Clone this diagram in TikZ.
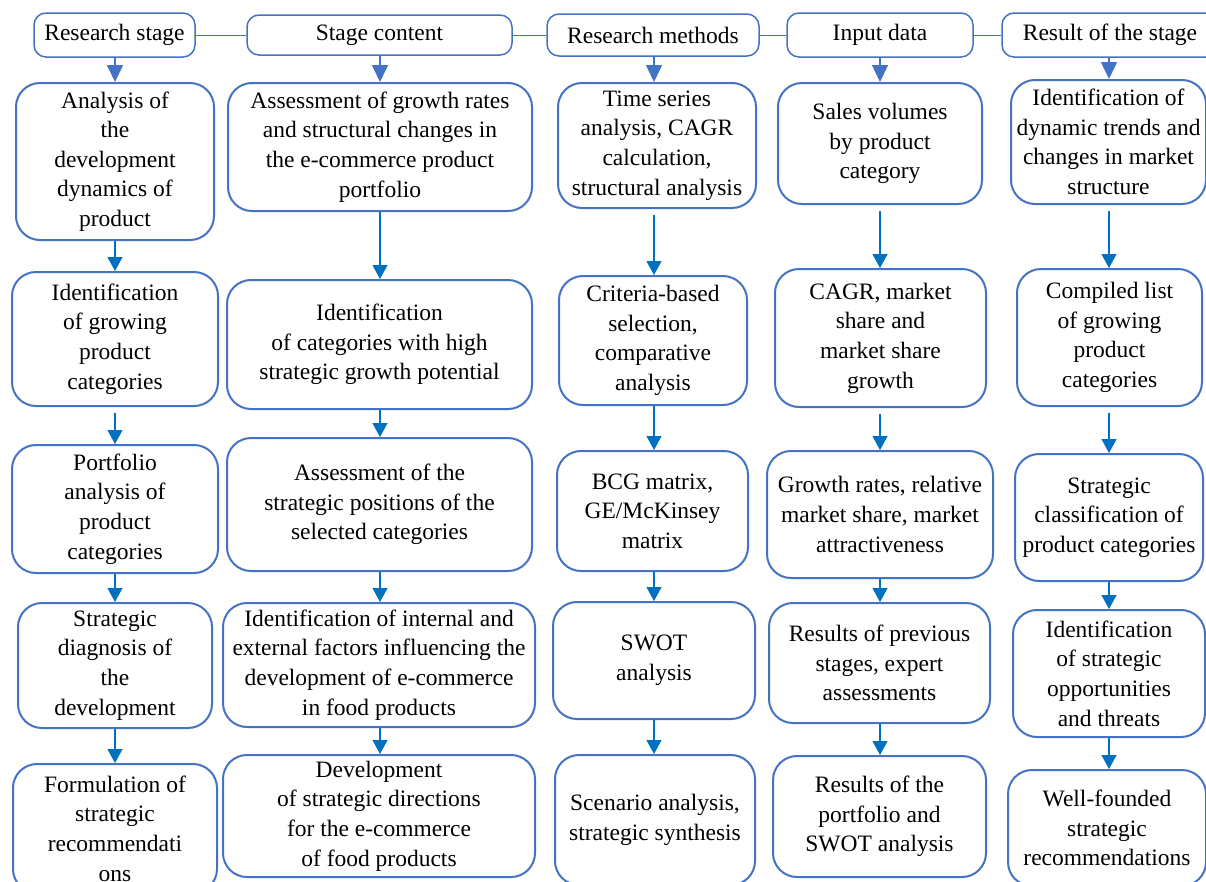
\documentclass[tikz,border=0pt]{standalone}
\usepackage{fontspec}
\setmainfont{Liberation Serif}
\usetikzlibrary{arrows.meta}
\definecolor{bord}{HTML}{4472C4}
\definecolor{arrc}{HTML}{0070C0}
\begin{document}
\begin{tikzpicture}[x=1pt,y=-1pt,
  bx/.style={draw=bord, line width=2pt, rounded corners=24pt, align=center, inner sep=0pt, font=\fontsize{23.5}{29.6}\selectfont, text=black},
  hd/.style={draw=bord, line width=1.5pt, rounded corners=12pt, align=center, inner sep=0pt, font=\fontsize{23.5}{29.6}\selectfont, text=black},
  hline/.style={draw=bord, line width=1pt},
  harr/.style={draw=bord, line width=1.5pt, -{Triangle[length=17pt,width=16pt]}},
  rarr/.style={draw=arrc, line width=1.2pt, -{Triangle[length=14pt,width=15pt]}},
  gap/.style={shorten <=6pt}]
\useasboundingbox (0,0) rectangle (1206,881);
\clip (0,0) rectangle (1206,881);

% column x positions
\coordinate (x1) at (115,0);
\coordinate (x2) at (380,0);
\coordinate (x3) at (654,0);
\coordinate (x4) at (880,0);
\coordinate (x5) at (1109,0);

% headers
\node[hd, minimum width=161pt, minimum height=44pt] (h1) at (114.5,35) {Research stage};
\node[hd, minimum width=265pt, minimum height=40pt] (h2) at (379.5,35) {Stage content};
\node[hd, minimum width=212pt, minimum height=42pt] (h3) at (653,35) {Research methods};
\node[hd, minimum width=186pt, minimum height=44pt] (h4) at (880,35) {Input data};
\node[hd, minimum width=216pt, minimum height=44pt] (h5) at (1110,35) {Result of the stage};

\draw[hline] (h1.east) -- (h2.west);
\draw[hline] (h2.east) -- (h3.west);
\draw[hline] (h3.east) -- (h4.west);
\draw[hline] (h4.east) -- (h5.west);

% column 1
\node[bx, minimum width=198pt, minimum height=157pt] (a1) at (115,161.5) {Analysis of\\the\\development\\dynamics of\\product};
\node[bx, minimum width=206pt, minimum height=134pt] (a2) at (115,339) {Identification\\of growing\\product\\categories};
\node[bx, minimum width=206pt, minimum height=128pt] (a3) at (115,509) {Portfolio\\analysis of\\product\\categories};
\node[bx, minimum width=194pt, minimum height=125pt] (a4) at (115,665.5) {Strategic\\diagnosis of\\the\\development};
\node[bx, minimum width=204pt, minimum height=129pt] (a5) at (115,828.5) {Formulation of\\strategic\\recommendati\\ons};

% column 2
\node[bx, minimum width=304pt, minimum height=128pt] (b1) at (380,147) {Assessment of growth rates\\and structural changes in\\the e-commerce product\\portfolio};
\node[bx, minimum width=305pt, minimum height=129pt] (b2) at (379.5,344.5) {Identification\\of categories with high\\strategic growth potential};
\node[bx, minimum width=305pt, minimum height=133pt] (b3) at (379.5,504.5) {Assessment of the\\strategic positions of the\\selected categories};
\node[bx, minimum width=312pt, minimum height=124pt] (b4) at (379,665) {Identification of internal and\\external factors influencing the\\development of e-commerce\\in food products};
\node[bx, minimum width=312pt, minimum height=122pt] (b5) at (379,816) {Development\\of strategic directions\\for the e-commerce\\of food products};

% column 3
\node[bx, minimum width=198pt, minimum height=125pt] (c1) at (657,145.5) {Time series\\analysis, CAGR\\calculation,\\structural analysis};
\node[bx, minimum width=188pt, minimum height=129pt] (c2) at (653,340.5) {Criteria-based\\selection,\\comparative\\analysis};
\node[bx, minimum width=191pt, minimum height=120pt] (c3) at (652.5,511) {BCG matrix,\\GE/McKinsey\\matrix};
\node[bx, minimum width=202pt, minimum height=117pt] (c4) at (654,660.5) {SWOT\\analysis};
\node[bx, minimum width=200pt, minimum height=130pt] (c5) at (655,820) {Scenario analysis,\\strategic synthesis};

% column 4
\node[bx, minimum width=204pt, minimum height=121pt] (d1) at (880,143.5) {Sales volumes\\by product\\category};
\node[bx, minimum width=211pt, minimum height=138pt] (d2) at (880.5,338) {CAGR, market\\share and\\market share\\growth};
\node[bx, minimum width=226pt, minimum height=127pt] (d3) at (880,514.5) {Growth rates, relative\\market share, market\\attractiveness};
\node[bx, minimum width=221pt, minimum height=120pt] (d4) at (879.5,663) {Results of previous\\stages, expert\\assessments};
\node[bx, minimum width=213pt, minimum height=121pt] (d5) at (879.5,816.5) {Results of the\\portfolio and\\SWOT analysis};

% column 5
\node[bx, minimum width=195pt, minimum height=124pt] (e1) at (1108.5,142) {Identification of\\dynamic trends and\\changes in market\\structure};
\node[bx, minimum width=185pt, minimum height=137pt] (e2) at (1109.5,337.5) {Compiled list\\of growing\\product\\categories};
\node[bx, minimum width=188pt, minimum height=127pt] (e3) at (1109,517.5) {Strategic\\classification of\\product categories};
\node[bx, minimum width=192pt, minimum height=127pt] (e4) at (1109,673.5) {Identification\\of strategic\\opportunities\\and threats};
\node[bx, minimum width=198pt, minimum height=116pt] (e5) at (1107,828) {Well-founded\\strategic\\recommendations};

% header arrows
\draw[harr] (h1.south -| x1) -- (a1.north -| x1);
\draw[harr] (h2.south -| x2) -- (b1.north -| x2);
\draw[harr] (h3.south -| x3) -- (c1.north -| x3);
\draw[harr] (h4.south -| x4) -- (d1.north -| x4);
\draw[harr] (h5.south -| x5) -- (e1.north -| x5);

% row arrows
\draw[rarr] (a1.south -| x1) -- (a2.north -| x1);
\draw[rarr,gap] (a2.south -| x1) -- (a3.north -| x1);
\draw[rarr] (a3.south -| x1) -- (a4.north -| x1);
\draw[rarr] (a4.south -| x1) -- (a5.north -| x1);

\draw[rarr] (b1.south -| x2) -- (b2.north -| x2);
\draw[rarr] (b2.south -| x2) -- (b3.north -| x2);
\draw[rarr] (b3.south -| x2) -- (b4.north -| x2);
\draw[rarr] (b4.south -| x2) -- (b5.north -| x2);

\draw[rarr,gap] (c1.south -| x3) -- (c2.north -| x3);
\draw[rarr] (c2.south -| x3) -- (c3.north -| x3);
\draw[rarr] (c3.south -| x3) -- (c4.north -| x3);
\draw[rarr] (c4.south -| x3) -- (c5.north -| x3);

\draw[rarr,gap] (d1.south -| x4) -- (d2.north -| x4);
\draw[rarr,gap] (d2.south -| x4) -- (d3.north -| x4);
\draw[rarr] (d3.south -| x4) -- (d4.north -| x4);
\draw[rarr] (d4.south -| x4) -- (d5.north -| x4);

\draw[rarr,gap] (e1.south -| x5) -- (e2.north -| x5);
\draw[rarr,gap] (e2.south -| x5) -- (e3.north -| x5);
\draw[rarr] (e3.south -| x5) -- (e4.north -| x5);
\draw[rarr] (e4.south -| x5) -- (e5.north -| x5);
\end{tikzpicture}
\end{document}
